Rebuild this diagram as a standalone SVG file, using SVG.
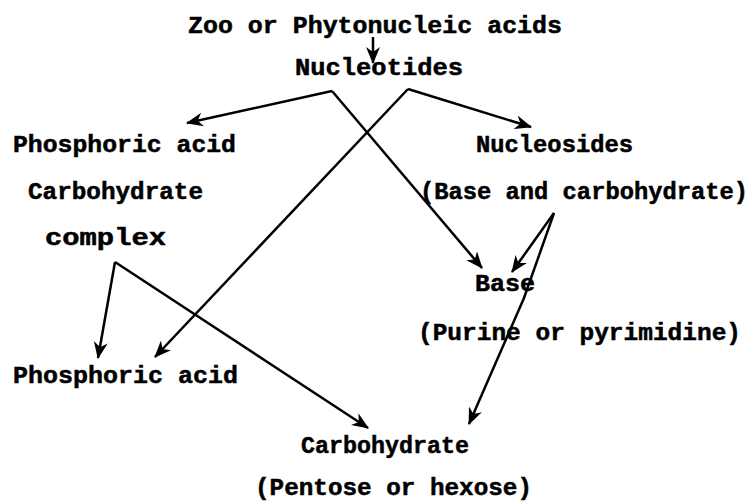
<svg xmlns="http://www.w3.org/2000/svg" width="752" height="504" viewBox="0 0 752 504">
<style>
text{font-family:"Liberation Mono","DejaVu Sans Mono",monospace;font-weight:bold;font-size:23px;fill:#000;stroke:#000;stroke-width:0.5}
.c{fill:none;stroke:#000;stroke-width:2.5;stroke-linejoin:miter}
</style>
<defs>
<marker id="ah" markerUnits="userSpaceOnUse" markerWidth="18" markerHeight="14" refX="16" refY="7" orient="auto">
<path d="M0,0 L17,7 L0,14 L5,7 Z" fill="#000"/>
</marker>
</defs>
<rect width="752" height="504" fill="#fff"/>
<g id="connectors">
<path class="c" d="M373,37 L373,63" marker-end="url(#ah)"/>
<path class="c" d="M332,91 L187,123" marker-end="url(#ah)"/>
<path class="c" d="M332,91 L482,268" marker-end="url(#ah)"/>
<path class="c" d="M408,89 L531,127" marker-end="url(#ah)"/>
<path class="c" d="M408,89 L155,357" marker-end="url(#ah)"/>
<path class="c" d="M554,213 L512,272" marker-end="url(#ah)"/>
<path class="c" d="M554,213 L524,298 L469,424" marker-end="url(#ah)"/>
<path class="c" d="M115,262 L98,358" marker-end="url(#ah)"/>
<path class="c" d="M115,262 L368,428" marker-end="url(#ah)"/>
</g>
<g id="n-source"><text x="188" y="33" textLength="374" lengthAdjust="spacingAndGlyphs">Zoo or Phytonucleic acids</text></g>
<g id="n-nucleotides"><text x="295" y="75" textLength="168" lengthAdjust="spacingAndGlyphs">Nucleotides</text></g>
<g id="n-phos-complex">
<text x="13" y="152" textLength="223" lengthAdjust="spacingAndGlyphs">Phosphoric acid</text>
<text x="28" y="199" textLength="175" lengthAdjust="spacingAndGlyphs">Carbohydrate</text>
<text x="45" y="245" textLength="121" lengthAdjust="spacingAndGlyphs">complex</text>
</g>
<g id="n-nucleosides">
<text x="476" y="152" textLength="157" lengthAdjust="spacingAndGlyphs">Nucleosides</text>
<text x="420" y="199" textLength="328" lengthAdjust="spacingAndGlyphs">(Base and carbohydrate)</text>
</g>
<g id="n-base">
<text x="475" y="291" textLength="60" lengthAdjust="spacingAndGlyphs">Base</text>
<text x="418" y="340" textLength="323" lengthAdjust="spacingAndGlyphs">(Purine or pyrimidine)</text>
</g>
<g id="n-phosphoric"><text x="13" y="383" textLength="225" lengthAdjust="spacingAndGlyphs">Phosphoric acid</text></g>
<g id="n-carbohydrate">
<text x="301" y="453" textLength="168" lengthAdjust="spacingAndGlyphs">Carbohydrate</text>
<text x="255" y="495" textLength="277" lengthAdjust="spacingAndGlyphs">(Pentose or hexose)</text>
</g>
</svg>
